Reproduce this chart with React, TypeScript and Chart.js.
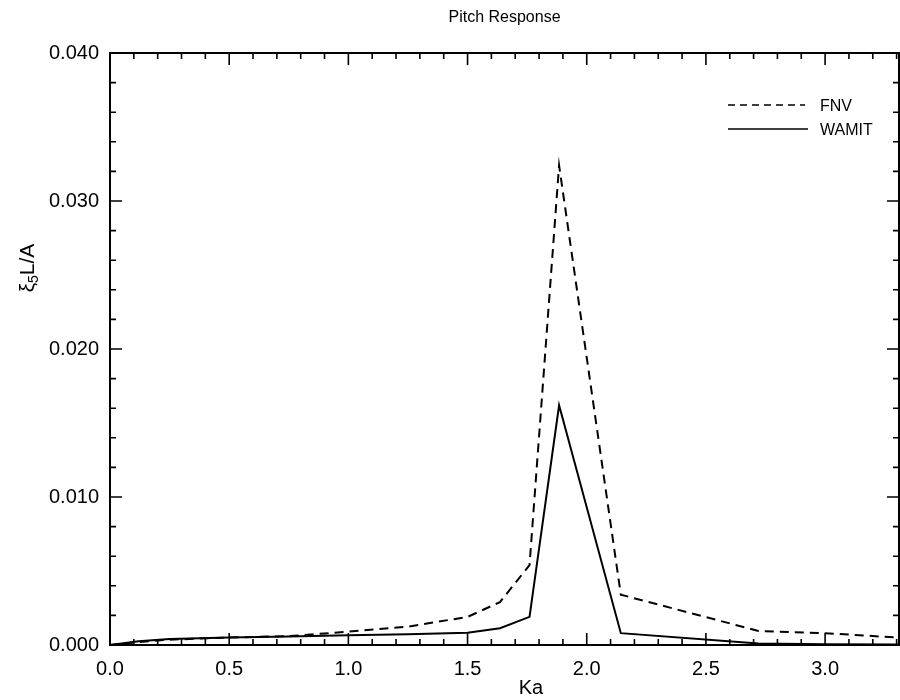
import React, { useEffect, useRef } from "react";
import { Chart, registerables } from "chart.js";

Chart.register(...registerables);

const kaValues = [0, 0.12, 0.25, 0.5, 0.75, 1.0, 1.25, 1.5, 1.636, 1.76, 1.884, 2.143, 2.72, 3.0, 3.31];
const fnvValues = [0, 0.0002, 0.00036, 0.0005, 0.0006, 0.0009, 0.00124, 0.0019, 0.0029, 0.0054, 0.0324, 0.0034, 0.00095, 0.0008, 0.0005];
const wamitValues = [0, 0.00025, 0.0004, 0.0005, 0.00058, 0.00066, 0.00073, 0.00083, 0.00113, 0.0019, 0.0162, 0.0008, 0.0001, 0.00005, 0.00003];

const xTickLabels = ["0.0", "0.5", "1.0", "1.5", "2.0", "2.5", "3.0"];
const yTickLabels = ["0.000", "0.010", "0.020", "0.030", "0.040"];
const seriesNames = ["FNV", "WAMIT"];

const FONT = "'Liberation Sans', Arial, Helvetica, sans-serif";
const INK = "#000";

const framePlugin = {
  id: "frameAndText",
  afterDraw(chart: any) {
    const { ctx, chartArea } = chart;
    const xs = chart.scales.x;
    const ys = chart.scales.y;
    const { left, right, top, bottom } = chartArea;
    ctx.save();
    ctx.strokeStyle = INK;
    ctx.lineWidth = 2;
    ctx.setLineDash([]);
    ctx.strokeRect(left, top, right - left, bottom - top);
    ctx.lineWidth = 1.6;
    for (let i = 0; i <= 33; i++) {
      const v = i / 10;
      const px = xs.getPixelForValue(v);
      if (px > right) break;
      const len = i % 5 === 0 ? 12 : 6;
      ctx.beginPath();
      ctx.moveTo(px, bottom);
      ctx.lineTo(px, bottom - len);
      ctx.moveTo(px, top);
      ctx.lineTo(px, top + len);
      ctx.stroke();
    }
    for (let i = 0; i <= 20; i++) {
      const v = i * 0.002;
      const py = ys.getPixelForValue(v);
      const len = i % 5 === 0 ? 12 : 6;
      ctx.beginPath();
      ctx.moveTo(left, py);
      ctx.lineTo(left + len, py);
      ctx.moveTo(right, py);
      ctx.lineTo(right - len, py);
      ctx.stroke();
    }
    ctx.fillStyle = INK;
    ctx.font = `16px ${FONT}`;
    ctx.textAlign = "center";
    ctx.textBaseline = "middle";
    ctx.fillText("Pitch Response", (left + right) / 2, 18);
    ctx.font = `20px ${FONT}`;
    ctx.fillText("Ka", 531, 688);
    ctx.save();
    ctx.translate(34, 268);
    ctx.rotate(-Math.PI / 2);
    ctx.textAlign = "left";
    ctx.textBaseline = "alphabetic";
    ctx.font = `21px ${FONT}`;
    const w1 = ctx.measureText("ξ").width;
    ctx.font = `14px ${FONT}`;
    const w2 = ctx.measureText("5").width;
    ctx.font = `21px ${FONT}`;
    const w3 = ctx.measureText("L/A").width;
    let x0 = -(w1 + w2 + w3) / 2;
    ctx.fillText("ξ", x0, 0);
    x0 += w1;
    ctx.font = `14px ${FONT}`;
    ctx.fillText("5", x0, 4);
    x0 += w2;
    ctx.font = `21px ${FONT}`;
    ctx.fillText("L/A", x0, 0);
    ctx.restore();
    ctx.lineWidth = 1.7;
    ctx.setLineDash([7, 5]);
    ctx.beginPath();
    ctx.moveTo(728, 105);
    ctx.lineTo(805, 105);
    ctx.stroke();
    ctx.setLineDash([]);
    ctx.beginPath();
    ctx.moveTo(728, 129);
    ctx.lineTo(808, 129);
    ctx.stroke();
    ctx.font = `16px ${FONT}`;
    ctx.textAlign = "left";
    ctx.textBaseline = "middle";
    ctx.fillText(seriesNames[0], 820, 107);
    ctx.fillText(seriesNames[1], 820, 131);
    ctx.restore();
  },
};

export default function App() {
  const ref = useRef<HTMLCanvasElement>(null);
  useEffect(() => {
    if (!ref.current) return;
    const chart = new Chart(ref.current, {
      type: "line",
      data: {
        datasets: [
          {
            label: seriesNames[0],
            data: kaValues.map((x, i) => ({ x, y: fnvValues[i] })),
            borderColor: INK,
            borderWidth: 2,
            borderDash: [9, 6],
            pointRadius: 0,
            tension: 0,
            fill: false,
          },
          {
            label: seriesNames[1],
            data: kaValues.map((x, i) => ({ x, y: wamitValues[i] })),
            borderColor: INK,
            borderWidth: 2,
            pointRadius: 0,
            tension: 0,
            fill: false,
          },
        ],
      },
      options: {
        responsive: false,
        animation: false,
        layout: { padding: { top: 53, right: 1, left: 0, bottom: 0 } },
        plugins: { legend: { display: false }, title: { display: false }, tooltip: { enabled: false } },
        scales: {
          x: {
            type: "linear",
            min: 0,
            max: 3.31,
            grid: { display: false, drawTicks: false },
            border: { display: false },
            afterFit: (s: any) => { s.height = 55; },
            ticks: {
              stepSize: 0.5,
              includeBounds: false,
              padding: 12,
              color: INK,
              font: { family: FONT, size: 20 },
              maxRotation: 0,
              callback: (v: any) => {
                const idx = Math.round(Number(v) / 0.5);
                return Math.abs(idx * 0.5 - Number(v)) < 1e-6 ? xTickLabels[idx] : "";
              },
            },
          },
          y: {
            type: "linear",
            min: 0,
            max: 0.04,
            grid: { display: false, drawTicks: false },
            border: { display: false },
            afterFit: (s: any) => { s.width = 110; },
            ticks: {
              stepSize: 0.01,
              padding: 11,
              color: INK,
              font: { family: FONT, size: 20 },
              callback: (v: any) => {
                const idx = Math.round(Number(v) / 0.01);
                return yTickLabels[idx];
              },
            },
          },
        },
      },
      plugins: [framePlugin],
    });
    return () => chart.destroy();
  }, []);
  return (
    <div style={{ position: "absolute", left: 0, top: 0, width: 900, height: 700, background: "#fff" }}>
      <canvas ref={ref} width={900} height={700} />
    </div>
  );
}
